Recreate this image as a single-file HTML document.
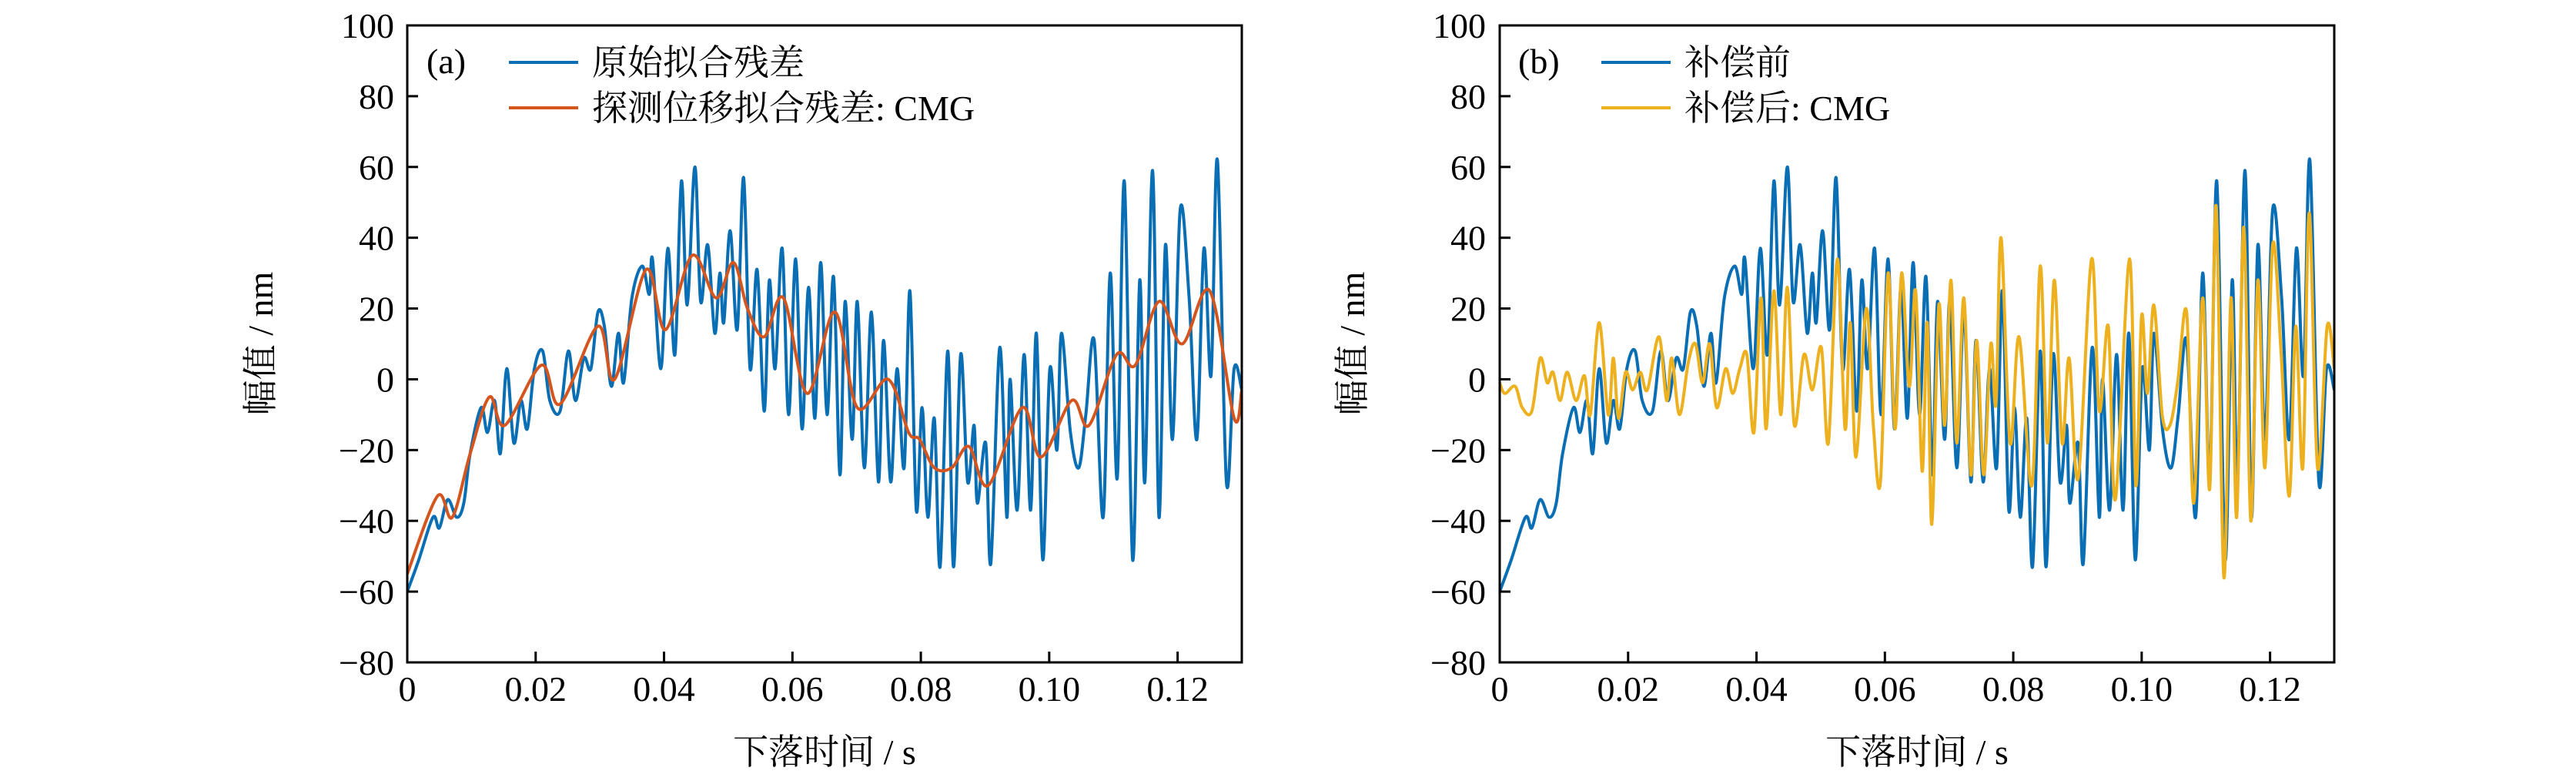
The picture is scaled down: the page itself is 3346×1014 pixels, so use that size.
<!DOCTYPE html>
<html><head><meta charset="utf-8">
<style>
html,body{margin:0;padding:0;background:#fff;}
svg{display:block;}
text{font-family:"Liberation Serif","Noto Serif CJK SC","Noto Sans CJK SC",serif;fill:#000;}
</style></head>
<body>
<svg id="chart" width="3346" height="1014" viewBox="0 0 3346 1014" xmlns="http://www.w3.org/2000/svg"></svg>
<script>
// ---- data ----
const xTicks = [0, 0.02, 0.04, 0.06, 0.08, 0.10, 0.12];
const xTickLabels = ["0", "0.02", "0.04", "0.06", "0.08", "0.10", "0.12"];
const yTicks = [-80, -60, -40, -20, 0, 20, 40, 60, 80, 100];
const yTickLabels = ["\u221280", "\u221260", "\u221240", "\u221220", "0", "20", "40", "60", "80", "100"];

const rawT = [0,0.0018,0.0040,0.0050,0.0063,0.0077,0.0088,0.0098,0.0115,0.0125,0.0136,0.0145,0.0155,0.0166,0.0177,0.0187,0.0198,0.0211,0.0222,0.0238,0.0251,0.0262,0.0275,0.0286,0.0297,0.0307,0.0318,0.0329,0.0337,0.0350,0.0366,0.0377,0.0382,0.0395,0.0406,0.0417,0.0427,0.0436,0.0448,0.0457,0.0468,0.0479,0.0487,0.0493,0.0503,0.0514,0.0524,0.0534,0.0545,0.0556,0.0564,0.0573,0.0584,0.0594,0.0605,0.0615,0.0625,0.0635,0.0644,0.0654,0.0664,0.0674,0.0682,0.0693,0.0701,0.0712,0.0723,0.0734,0.0742,0.0753,0.0763,0.0774,0.0783,0.0793,0.0802,0.0811,0.0821,0.0830,0.0842,0.0851,0.0862,0.0873,0.0883,0.0888,0.0901,0.0909,0.0923,0.0934,0.0939,0.0950,0.0961,0.0971,0.0980,0.0990,0.1001,0.1012,0.1019,0.1033,0.1046,0.1057,0.1070,0.1084,0.1095,0.1106,0.1117,0.1130,0.1141,0.1149,0.1161,0.1171,0.1181,0.1192,0.1204,0.1218,0.1230,0.1241,0.1252,0.1262,0.1276,0.1288,0.1300];
const rawV = [-60,-51,-39,-42,-34,-39,-35,-21,-8,-15,-6,-21,3,-18,-6,-14,3,8,-6,-9,8,-6,6,3,19,15,-2,13,-1,23,32,24,34,3,37,7,56,21,60,22,38,13,30,16,42,14,57,3,31,-9,28,3,37,-10,34,-14,26,-11,33,-10,29,-27,22,-17,22,-25,19,-29,11,-29,3,-25,25,-37,-8,-39,-11,-53,8,-53,7,-29,-13,-35,-18,-52,9,-39,0,-37,7,-37,13,-51,3,-20,13,-15,-25,-10,11,-39,30,-28,56,-51,28,-29,59,-39,38,-17,48,23,-17,37,1,62,-29,3,-3];

const cmgT = [0,0.0047,0.0070,0.0098,0.0128,0.0152,0.0209,0.0238,0.0297,0.0323,0.0372,0.0402,0.0444,0.0481,0.0508,0.0530,0.0556,0.0586,0.0623,0.0666,0.0701,0.0749,0.0781,0.0798,0.0821,0.0848,0.0875,0.0905,0.0958,0.0987,0.1035,0.1062,0.1105,0.1134,0.1171,0.1207,0.1250,0.1288,0.1300];
const cmgV = [-55,-33,-39,-21,-5,-13,4,-7,15,0,31,14,35,23,33,20,12,23,-4,19,-8,0,-15,-17,-25,-25,-19,-30,-8,-22,-6,-13,7,4,22,10,25,-11,-3];

const compT = [0,0.0008,0.0024,0.0035,0.0050,0.0063,0.0074,0.0083,0.0094,0.0105,0.0119,0.0132,0.0141,0.0155,0.0169,0.0177,0.0185,0.0196,0.0207,0.0219,0.0230,0.0248,0.0260,0.0268,0.0280,0.0294,0.0305,0.0316,0.0327,0.0338,0.0352,0.0363,0.0374,0.0385,0.0396,0.0407,0.0415,0.0427,0.0438,0.0448,0.0459,0.0474,0.0487,0.0501,0.0512,0.0526,0.0538,0.0546,0.0555,0.0571,0.0582,0.0593,0.0605,0.0616,0.0626,0.0638,0.0648,0.0658,0.0666,0.0673,0.0684,0.0693,0.0703,0.0712,0.0723,0.0734,0.0743,0.0754,0.0765,0.0773,0.0781,0.0795,0.0809,0.0829,0.0842,0.0853,0.0864,0.0876,0.0887,0.0901,0.0922,0.0934,0.0948,0.0959,0.0981,0.0991,0.1000,0.1009,0.1019,0.1032,0.1044,0.1056,0.1070,0.1081,0.1095,0.1106,0.1116,0.1128,0.1139,0.1148,0.1159,0.1170,0.1181,0.1192,0.1204,0.1217,0.1230,0.1240,0.1251,0.1261,0.1274,0.1289,0.1300];
const compV = [-1,-4,-2,-8,-9,6,-1,2,-6,2,-6,1,-10,16,-10,6,-11,2,-3,2,-3,12,-6,6,-10,5,10,-1,10,-8,3,-4,3,7,-15,23,-14,25,-10,26,-13,7,-3,9,-18,34,-14,16,-22,20,-13,-29,30,-14,30,-2,25,-26,16,-41,21,-13,28,-18,23,-27,11,-27,10,-7,40,-18,12,-30,32,-18,28,-18,6,-28,34,-9,15,-34,34,-30,18,-4,21,-10,-13,-1,19,-35,23,-31,49,-56,23,-39,43,-40,28,-25,38,8,-33,15,-25,47,-25,15,3];

// ---- layout ----
const svg = document.getElementById('chart');
const NS = 'http://www.w3.org/2000/svg';
const Y0 = 33, Y1 = 860, XMAX = 0.13, YMIN = -80, YMAX = 100;
const BLUE = '#0a6eb4', ORANGE = '#d4561e', YELLOW = '#edb120';

function mk(tag, attrs, parent) {
  const e = document.createElementNS(NS, tag);
  for (const k in attrs) e.setAttribute(k, attrs[k]);
  (parent || svg).appendChild(e);
  return e;
}
function crPath(pts) {
  let d = 'M' + pts[0][0].toFixed(1) + ',' + pts[0][1].toFixed(1);
  for (let i = 0; i < pts.length - 1; i++) {
    const p0 = pts[Math.max(0, i - 1)], p1 = pts[i], p2 = pts[i + 1], p3 = pts[Math.min(pts.length - 1, i + 2)];
    const c1x = p1[0] + (p2[0] - p0[0]) / 6, c1y = p1[1] + (p2[1] - p0[1]) / 6;
    const c2x = p2[0] - (p3[0] - p1[0]) / 6, c2y = p2[1] - (p3[1] - p1[1]) / 6;
    d += 'C' + c1x.toFixed(1) + ',' + c1y.toFixed(1) + ' ' + c2x.toFixed(1) + ',' + c2y.toFixed(1) + ' ' + p2[0].toFixed(1) + ',' + p2[1].toFixed(1);
  }
  return d;
}

function panel(cfg) {
  const g = mk('g', {});
  
  
  const X0 = cfg.x0, X1 = cfg.x1;
  const sx = t => X0 + t / XMAX * (X1 - X0);
  const sy = v => Y1 - (v - YMIN) / (YMAX - YMIN) * (Y1 - Y0);
  const clip = mk('clipPath', { id: cfg.name + '-clip' }, g);
  mk('rect', { x: X0, y: Y0, width: X1 - X0, height: Y1 - Y0 }, clip);

  cfg.series.forEach(s => {
    const pts = s.t.map((t, i) => [sx(t), sy(s.v[i])]);
    const p = mk('path', { d: crPath(pts), fill: 'none', stroke: s.color, 'stroke-width': 4, 'stroke-linejoin': 'round', 'clip-path': 'url(#' + cfg.name + '-clip)' }, g);
    
    
  });

  const frame = mk('rect', { x: X0, y: Y0, width: X1 - X0, height: Y1 - Y0, fill: 'none', stroke: '#000', 'stroke-width': 3 }, g);
  
  

  xTicks.forEach((t, i) => {
    const x = sx(t);
    mk('line', { x1: x, y1: Y1, x2: x, y2: Y1 - 14, stroke: '#000', 'stroke-width': 3 }, g);
    const tx = mk('text', { x: x, y: 910, 'font-size': 46, 'text-anchor': 'middle' }, g);
    tx.textContent = xTickLabels[i];
    
    
  });
  yTicks.forEach((v, i) => {
    const y = sy(v);
    mk('line', { x1: X0, y1: y, x2: X0 + 14, y2: y, stroke: '#000', 'stroke-width': 3 }, g);
    const tx = mk('text', { x: cfg.tickRight, y: y + 16, 'font-size': 46, 'text-anchor': 'end' }, g);
    tx.textContent = yTickLabels[i];
    
    
  });

  const yl = mk('text', { x: cfg.ylabX, y: 446, 'font-size': 46, 'text-anchor': 'middle', transform: 'rotate(-90 ' + cfg.ylabX + ' 446)' }, g);
  yl.textContent = '幅值 / nm';
  
  
  const xl = mk('text', { x: (X0 + X1) / 2, y: 992, 'font-size': 46, 'text-anchor': 'middle' }, g);
  xl.textContent = '下落时间 / s';
  
  

  const pl = mk('text', { x: cfg.lblX, y: 95, 'font-size': 46 }, g);
  pl.textContent = cfg.label;
  
  
  cfg.series.forEach((s, i) => {
    const ly = 81 + i * 59;
    const ll = mk('line', { x1: cfg.legX, y1: ly, x2: cfg.legX + 90, y2: ly, stroke: s.color, 'stroke-width': 4 }, g);
    
    
    const lt = mk('text', { x: cfg.legX + 108, y: ly + 16, 'font-size': 46 }, g);
    lt.textContent = s.label;
    
    
  });
}

panel({ name: 'panel-a', x0: 529, x1: 1613, tickRight: 512, ylabX: 354, lblX: 554, legX: 661, label: '(a)',
  series: [
    { name: 'raw-residual-line', t: rawT, v: rawV, color: BLUE, label: '原始拟合残差' },
    { name: 'cmg-residual-line', t: cmgT, v: cmgV, color: ORANGE, label: '探测位移拟合残差: CMG' }
  ] });
panel({ name: 'panel-b', x0: 1948, x1: 3032, tickRight: 1930, ylabX: 1772, lblX: 1972, legX: 2080, label: '(b)',
  series: [
    { name: 'before-compensation-line', t: rawT, v: rawV, color: BLUE, label: '补偿前' },
    { name: 'after-compensation-line', t: compT, v: compV, color: YELLOW, label: '补偿后: CMG' }
  ] });
</script>
</body></html>
